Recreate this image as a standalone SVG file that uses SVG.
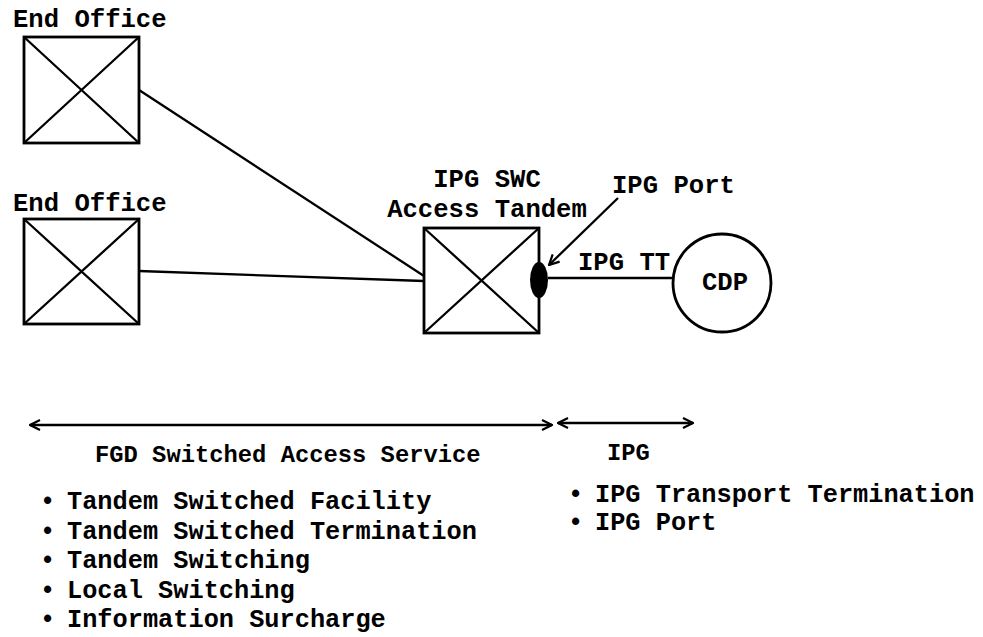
<svg xmlns="http://www.w3.org/2000/svg" width="983" height="637" viewBox="0 0 983 637">
<style>
text{font-family:"Liberation Mono","Courier New",monospace;font-weight:bold;font-size:25.6px;fill:#000}
.h{font-size:23.8px}
.it{font-size:25.3px}
.box{fill:none;stroke:#000;stroke-width:2.8}
.ln{fill:none;stroke:#000;stroke-width:2.3}
</style>
<defs>
<marker id="ah" viewBox="0 0 12 12" refX="11" refY="6" markerWidth="12" markerHeight="12" markerUnits="userSpaceOnUse" orient="auto-start-reverse">
<path d="M1,1 L11,6 L1,11" fill="none" stroke="#000" stroke-width="2.2"/>
</marker>
</defs>
<rect width="983" height="637" fill="#fff"/>
<g id="connectors">
<line class="ln" x1="139" y1="90" x2="424" y2="276"/>
<line class="ln" x1="139" y1="271" x2="424" y2="281"/>
<line class="ln" x1="548" y1="278" x2="673" y2="278"/>
<line class="ln" x1="618" y1="198" x2="549" y2="265" marker-end="url(#ah)"/>
<line class="ln" x1="30" y1="425" x2="552" y2="425" marker-start="url(#ah)" marker-end="url(#ah)"/>
<line class="ln" x1="558" y1="423" x2="693" y2="423" marker-start="url(#ah)" marker-end="url(#ah)"/>
</g>
<g id="eo1">
<text x="13" y="27">End Office</text>
<rect class="box" x="24" y="37" width="115" height="106"/>
<path class="ln" d="M24,37 L139,143 M139,37 L24,143"/>
</g>
<g id="eo2">
<text x="13" y="211">End Office</text>
<rect class="box" x="24" y="219" width="115" height="105"/>
<path class="ln" d="M24,219 L139,324 M139,219 L24,324"/>
</g>
<g id="tandem">
<text x="487" y="187" text-anchor="middle">IPG SWC</text>
<text x="487" y="217" text-anchor="middle">Access Tandem</text>
<rect class="box" x="424" y="228" width="115" height="105"/>
<path class="ln" d="M424,228 L539,333 M539,228 L424,333"/>
</g>
<g id="port">
<ellipse cx="539" cy="280" rx="9" ry="18" fill="#000"/>
<text x="612" y="193">IPG Port</text>
</g>
<g id="tt"><text x="578" y="270">IPG TT</text></g>
<g id="cdp">
<circle cx="722" cy="283" r="49" class="box"/>
<text x="725" y="290" text-anchor="middle">CDP</text>
</g>
<g id="fgd">
<text class="h" x="95" y="462">FGD Switched Access Service</text>
<text class="it" x="40" y="509">•<tspan x="67">Tandem Switched Facility</tspan></text>
<text class="it" x="40" y="539">•<tspan x="67">Tandem Switched Termination</tspan></text>
<text class="it" x="40" y="568">•<tspan x="67">Tandem Switching</tspan></text>
<text class="it" x="40" y="598">•<tspan x="67">Local Switching</tspan></text>
<text class="it" x="40" y="627">•<tspan x="67">Information Surcharge</tspan></text>
</g>
<g id="ipg">
<text class="h" x="607" y="460">IPG</text>
<text class="it" x="568" y="502">•<tspan x="595">IPG Transport Termination</tspan></text>
<text class="it" x="568" y="530">•<tspan x="595">IPG Port</tspan></text>
</g>
</svg>
